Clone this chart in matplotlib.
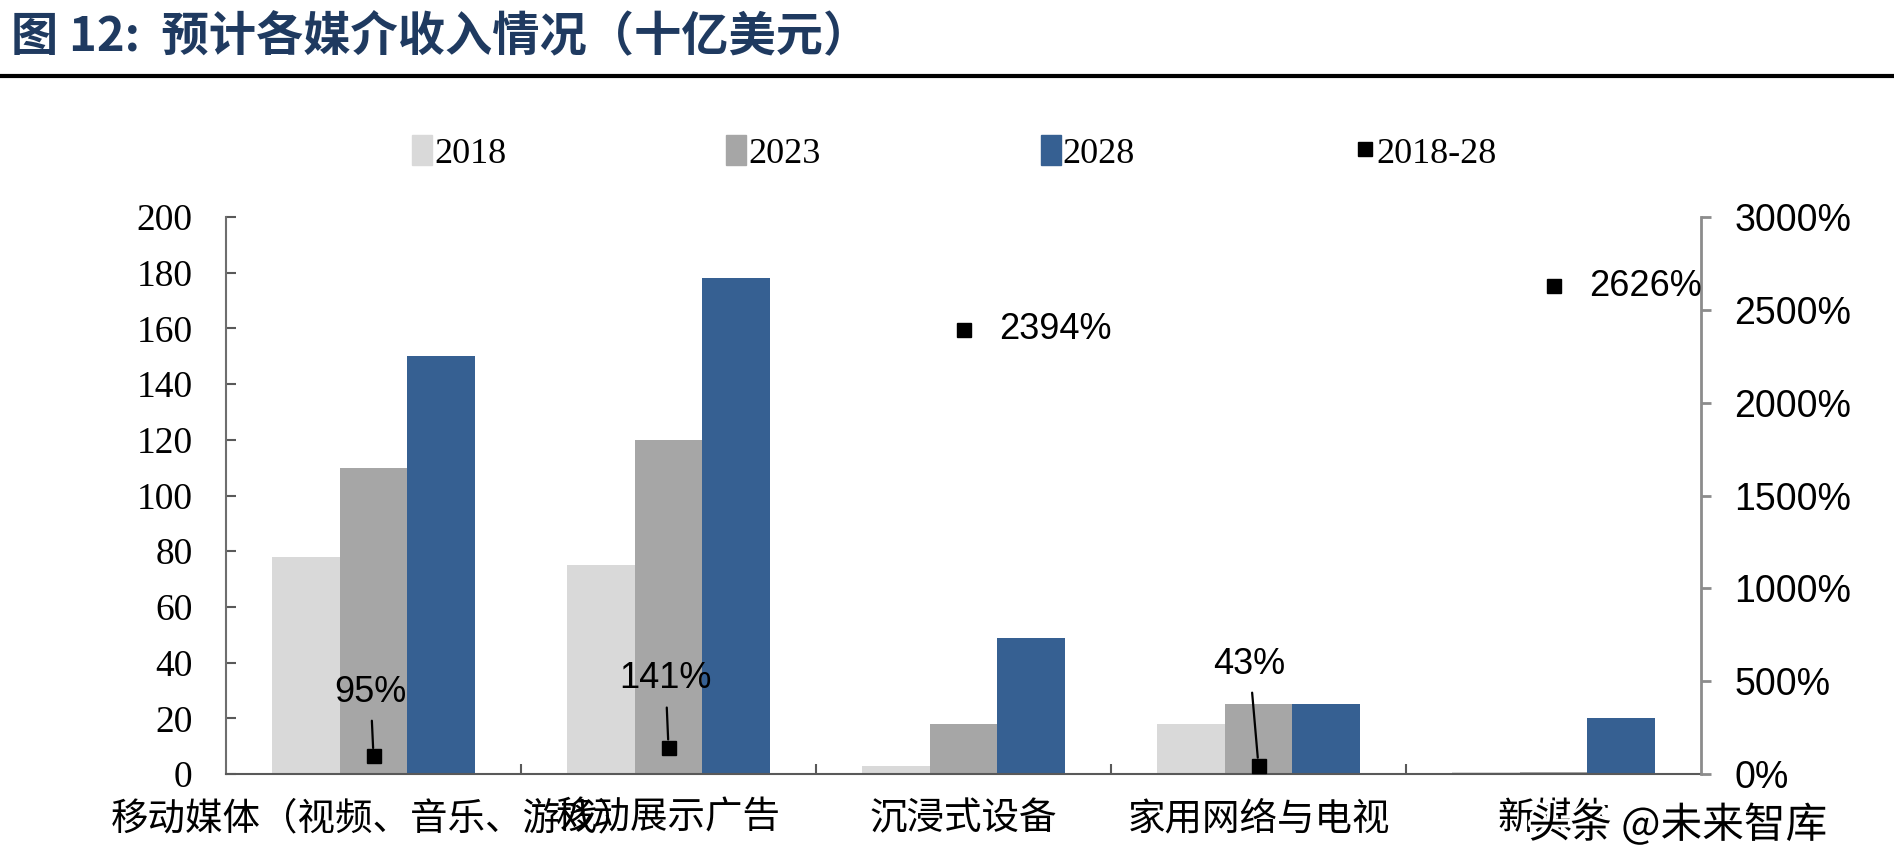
import numpy as np
import matplotlib
matplotlib.use('Agg')
import matplotlib.pyplot as plt
from matplotlib.patches import Patch
from matplotlib.lines import Line2D
import matplotlib.patheffects as pe

plt.rcParams['font.family'] = ['Noto Sans CJK SC', 'DejaVu Sans']

# 数据（十亿美元）
categories = ['移动媒体（视频、音乐、游戏）', '移动展示广告', '沉浸式设备', '家用网络与电视', '新媒体']
rev_2018 = [78, 75, 3, 18, 0.7]
rev_2023 = [110, 120, 18, 25, 0.8]
rev_2028 = [150, 178, 49, 25, 20]
growth = [95, 141, 2394, 43, 2626]
growth_labels = ['95%', '141%', '2394%', '43%', '2626%']
series_names = ['2018', '2023', '2028', '2018-28']

c18, c23, c28 = '#D9D9D9', '#A6A6A6', '#366092'

fig = plt.figure(figsize=(18.94, 8.66), dpi=100)

# 标题与分隔线
fig.text(0.006, 1 - 36 / 866, '图 12:  预计各媒介收入情况（十亿美元）', fontsize=34,
         fontweight='bold', color='#1F3A60', va='center', ha='left')
fig.add_artist(Line2D([0, 1], [1 - 76 / 866] * 2, color='black', lw=3))

ax = fig.add_axes([226 / 1894, 1 - 774 / 866, (1701 - 226) / 1894, (774 - 217) / 866])
x = np.arange(len(categories))
w = 0.23
ax.bar(x - w, rev_2018, w, color=c18)
ax.bar(x, rev_2023, w, color=c23)
ax.bar(x + w, rev_2028, w, color=c28)

ax.set_xlim(-0.5, len(categories) - 0.5)
ax.set_ylim(0, 200)
ax.set_yticks(np.arange(0, 201, 20))
ax.tick_params(axis='y', direction='in', length=7, width=1.5, color='#595959', pad=24,
               labelsize=27)
for t in ax.get_yticklabels():
    t.set_fontfamily('Liberation Serif')
ax.set_xticks(x)
ax.set_xticklabels(categories, fontsize=27)
ax.tick_params(axis='x', length=0, pad=18)
ax.set_xticks(np.arange(0.5, len(categories) - 1, 1), minor=True)
ax.tick_params(axis='x', which='minor', direction='in', length=7, width=1.5, color='#595959')
for s in ['top', 'right']:
    ax.spines[s].set_visible(False)
ax.spines['left'].set_color('#6E6E6E')
ax.spines['left'].set_linewidth(1.5)
ax.spines['bottom'].set_color('#595959')
ax.spines['bottom'].set_linewidth(1.5)

# 右轴：增长率
ax2 = ax.twinx()
ax2.set_ylim(0, 3000)
ax2.set_yticks(np.arange(0, 3001, 500))
ax2.set_yticklabels([f'{v}%' for v in range(0, 3001, 500)])
ax2.tick_params(axis='y', direction='out', length=7, width=2, color='#8C8C8C', pad=17,
                labelsize=27)
for t in ax2.get_yticklabels():
    t.set_fontfamily('Liberation Sans')
for s in ['top', 'left', 'bottom']:
    ax2.spines[s].set_visible(False)
ax2.spines['right'].set_color('#8C8C8C')
ax2.spines['right'].set_linewidth(2)

ax2.plot(x, growth, 's', color='black', ms=10, ls='none')

lab_font = dict(fontsize=26, family='Liberation Sans')
# 带引导线的标签
callouts = {0: (-0.01, 441), 1: (-0.01, 512), 3: (-0.03, 592)}
for i, (dx, ty) in callouts.items():
    ax2.annotate(growth_labels[i], xy=(x[i], growth[i]), xytext=(x[i] + dx, ty),
                 ha='center', va='center', **lab_font,
                 arrowprops=dict(arrowstyle='-', color='black', lw=1.6,
                                 shrinkA=6, shrinkB=6))
for i in [2, 4]:
    ax2.annotate(growth_labels[i], xy=(x[i], growth[i]), xytext=(26, 0),
                 textcoords='offset points', ha='left', va='center', **lab_font)

# 图例
handles = [Patch(color=c18), Patch(color=c23), Patch(color=c28),
           Line2D([], [], marker='s', ls='none', color='black', ms=10)]
fig.legend(handles, series_names, loc='center', bbox_to_anchor=(0.504, 1 - 153 / 866),
           ncol=4, frameon=False, prop=dict(family='Liberation Serif', size=26),
           handlelength=0.55, handleheight=0.9, handletextpad=0.05, columnspacing=6.1)

# 水印
fig.text(0.807, 1 - 825 / 866, '头条 @未来智库', fontsize=30, color='black', va='center',
         ha='left', path_effects=[pe.withStroke(linewidth=4, foreground='white')])

fig.savefig('out.png', dpi=100)
